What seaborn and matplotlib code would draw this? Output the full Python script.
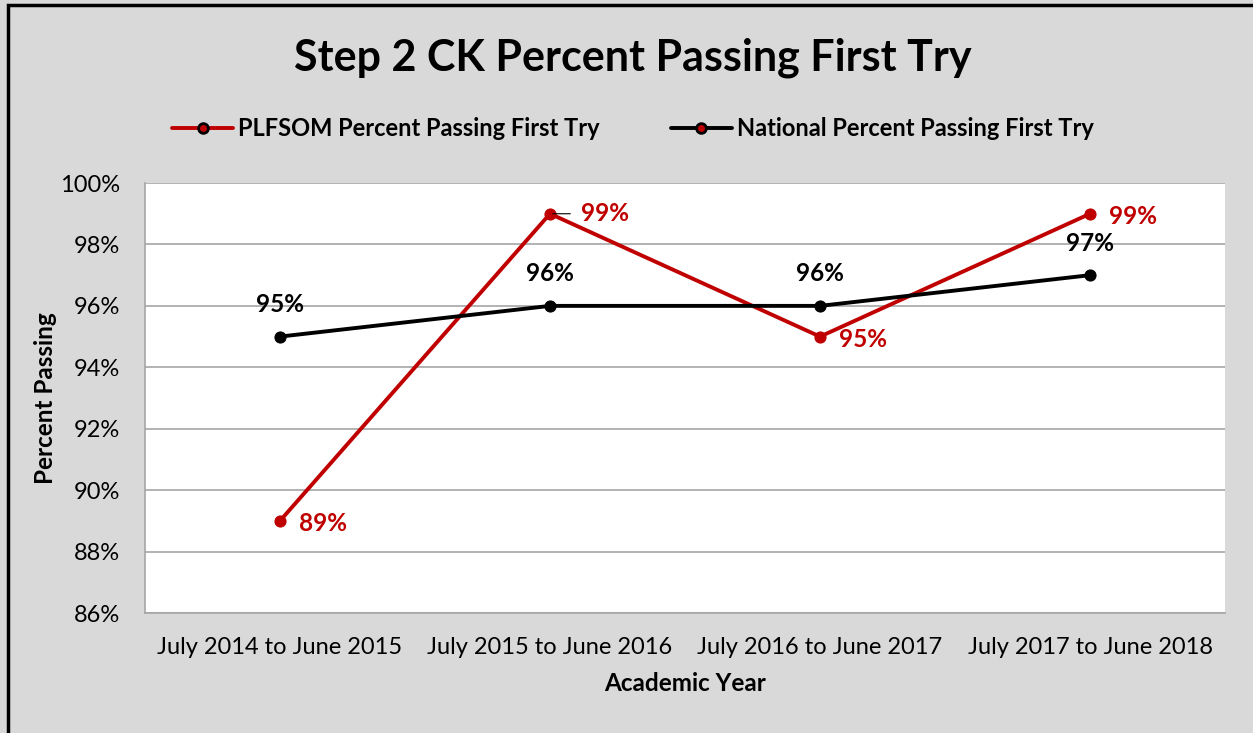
import matplotlib
matplotlib.use("Agg")
import matplotlib.pyplot as plt
import seaborn as sns
import pandas as pd
from matplotlib.patches import Rectangle
from matplotlib.ticker import FixedLocator, PercentFormatter

years = ["July 2014 to June 2015", "July 2015 to June 2016",
         "July 2016 to June 2017", "July 2017 to June 2018"]
plfsom = [89, 99, 95, 99]
national = [95, 96, 96, 97]
series_names = ["PLFSOM Percent Passing First Try", "National Percent Passing First Try"]

RED = "#c00000"
BLACK = "#000000"
BG = "#d9d9d9"

sns.set_style("white")
plt.rcParams["font.family"] = ["Lato", "DejaVu Sans"]
plt.rcParams.update({"text.color": BLACK, "axes.labelcolor": BLACK,
                     "xtick.color": BLACK, "ytick.color": BLACK})

df = pd.DataFrame({
    "year": years * 2,
    "x": list(range(len(years))) * 2,
    "value": plfsom + national,
    "series": [series_names[0]] * len(years) + [series_names[1]] * len(years),
})

fig = plt.figure(figsize=(12.53, 7.33), dpi=100, facecolor=BG)
ax = fig.add_axes([0.1157, 0.1637, 0.862, 0.5866])
ax.set_facecolor("white")

sns.lineplot(data=df, x="x", y="value", hue="series",
             palette={series_names[0]: RED, series_names[1]: BLACK},
             hue_order=series_names, marker="o", markersize=8,
             linewidth=2.8, ax=ax, legend=False)
for line, c in zip(ax.lines, [RED, BLACK]):
    line.set_markeredgecolor(c)
    line.set_markerfacecolor(c)

ax.set_xlim(-0.5, len(years) - 0.5)
ax.set_ylim(86, 100)
ax.yaxis.set_major_locator(FixedLocator(range(86, 101, 2)))
ax.yaxis.set_major_formatter(PercentFormatter(decimals=0))
ax.grid(axis="y", color="#a6a6a6", linewidth=1.2)
ax.set_xticks(range(len(years)))
ax.set_xticklabels(years)
ax.set_xticks([i - 0.5 for i in range(len(years) + 1)], minor=True)
ax.tick_params(axis="x", which="major", length=0, pad=17, labelsize=17)
ax.tick_params(axis="x", which="minor", length=7, color="#a6a6a6", width=1.2)
ax.tick_params(axis="y", length=0, pad=18, labelsize=17)
for s in ["top", "right"]:
    ax.spines[s].set_visible(False)
for s in ["left", "bottom"]:
    ax.spines[s].set_color("#a6a6a6")
    ax.spines[s].set_linewidth(1.2)

ax.set_xlabel("Academic Year", fontsize=17.5, fontweight="bold", labelpad=10)
ax.set_ylabel("Percent Passing", fontsize=17.5, fontweight="bold", labelpad=2)

# data labels
for i, v in enumerate(national):
    ax.annotate(f"{v}%", (i, v), xytext=(0, 23), textcoords="offset points",
                ha="center", va="center", fontsize=17.5, fontweight="bold", color=BLACK)
for i, v in enumerate(plfsom):
    if i == 1:
        ax.annotate(f"{v}%", (i, v), xytext=(22, 0), textcoords="offset points",
                    ha="left", va="center", fontsize=17.5, fontweight="bold", color=RED,
                    arrowprops=dict(arrowstyle="-", color=BLACK, lw=0.8,
                                    shrinkA=5, shrinkB=2))
    else:
        ax.annotate(f"{v}%", (i, v), xytext=(14, -2), textcoords="offset points",
                    ha="left", va="center", fontsize=17.5, fontweight="bold", color=RED)

fig.text(0.505, 0.921, "Step 2 CK Percent Passing First Try", ha="center", va="center",
         fontsize=31, fontweight="bold")

handles = [
    plt.Line2D([], [], color=RED, lw=2.8, marker="o", markersize=7,
               markerfacecolor=RED, markeredgecolor=BLACK, markeredgewidth=2),
    plt.Line2D([], [], color=BLACK, lw=2.8, marker="o", markersize=7,
               markerfacecolor=RED, markeredgecolor=BLACK, markeredgewidth=2),
]
fig.legend(handles, series_names, loc="center", bbox_to_anchor=(0.505, 0.825),
           ncol=2, frameon=False, prop={"size": 17, "weight": "bold"},
           handlelength=2.6, handletextpad=0.2, columnspacing=3.0)

fig.patches.append(Rectangle((0.006, -0.01), 1.0, 1.003, transform=fig.transFigure,
                             fill=False, edgecolor=BLACK, linewidth=2.5))

fig.savefig("out.png", dpi=100, facecolor=BG)
